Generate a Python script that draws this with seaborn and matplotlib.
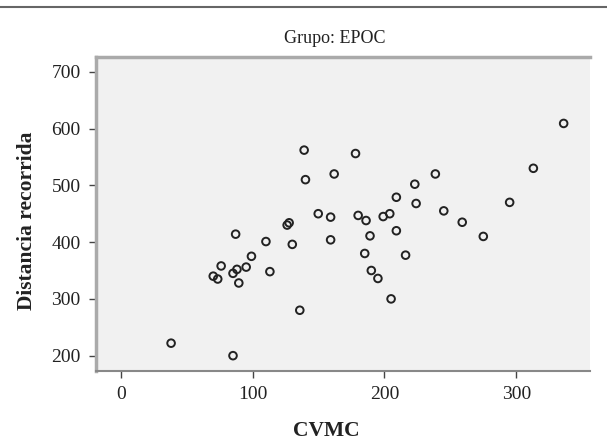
import matplotlib
matplotlib.use("Agg")
import matplotlib.pyplot as plt
import seaborn as sns
import pandas as pd
from matplotlib.lines import Line2D

cvmc = [38, 85, 87, 110, 130, 127.6, 126.1, 149.7, 159.1, 159.1, 99, 95, 113, 76, 88,
        85, 70, 73.4, 89.4, 135.7, 139, 140, 161.8, 178, 336, 313, 238.6, 223, 209, 224,
        295, 245, 259, 275, 180, 186, 199, 204, 209, 189, 185, 216, 190, 195, 205]
distancia = [222, 200, 414, 401, 396, 434, 430, 450, 444, 404, 375, 356, 348, 358, 352,
             345, 340, 335, 328, 280, 562, 510, 520, 556, 609, 530, 520, 502, 479, 468,
             470, 455, 435, 410, 447, 438, 445, 450, 420, 411, 380, 377, 350, 336, 300]
x_ticks = [0, 100, 200, 300]
y_ticks = [200, 300, 400, 500, 600, 700]

df = pd.DataFrame({"CVMC": cvmc, "Distancia recorrida": distancia})

sns.set_theme(style="white")
plt.rcParams['font.family'] = ['Liberation Serif', 'DejaVu Serif']

fig = plt.figure(figsize=(6.07, 4.40), dpi=100)
ax = fig.add_axes([96/607, 1-371/440, (590-96)/607, (371-57)/440])
ax.set_facecolor('#f1f1f1')

sns.scatterplot(data=df, x="CVMC", y="Distancia recorrida", ax=ax,
                marker='o', s=30, facecolors='none', edgecolor='#222222', linewidth=1.4)

ax.set_xlim(-19, 356)
ax.set_ylim(173, 726)
ax.set_xticks(x_ticks)
ax.set_yticks(y_ticks)
ax.tick_params(axis='both', direction='out', length=5, width=1, color='#444444',
               labelsize=14, labelcolor='#222222', left=True, bottom=True, pad=6)

for side in ['top', 'left']:
    ax.spines[side].set_color('#aaaaaa')
    ax.spines[side].set_linewidth(2.5)
ax.spines['bottom'].set_color('#888888')
ax.spines['bottom'].set_linewidth(1.5)
ax.spines['right'].set_visible(False)

ax.set_xlabel("CVMC", fontsize=15.5, fontweight='bold', color='#222222')
ax.set_ylabel("Distancia recorrida", fontsize=15.5, fontweight='bold', color='#222222')
ax.xaxis.set_label_coords(0.466, -0.158)
ax.yaxis.set_label_coords(-0.12, 0.478)

fig.text(335/607, 1-38/440, "Grupo: EPOC", ha='center', va='center', fontsize=13, color='#222222')
fig.add_artist(Line2D([0, 1], [1-7/440, 1-7/440], color='#666666', linewidth=1.5,
                      transform=fig.transFigure))

fig.savefig("out.png", dpi=100)
